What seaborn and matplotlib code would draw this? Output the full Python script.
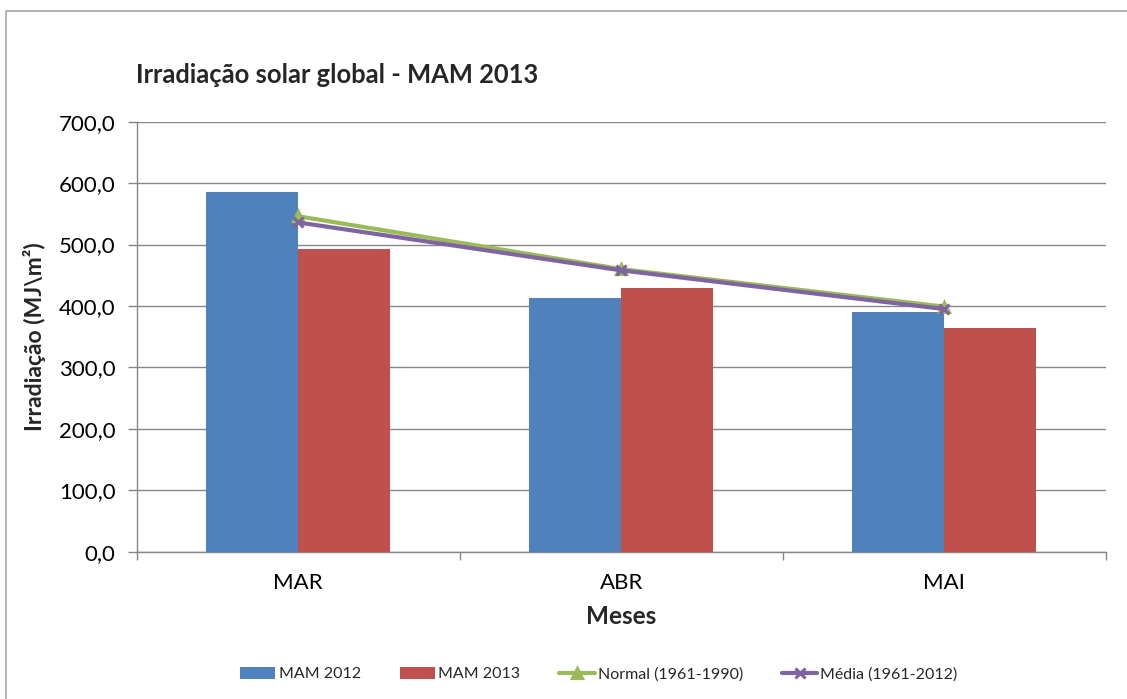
import matplotlib
matplotlib.use("Agg")
import matplotlib.pyplot as plt
import seaborn as sns
import pandas as pd
from matplotlib.ticker import FuncFormatter, FixedLocator
from matplotlib.patches import Rectangle

meses = ["MAR", "ABR", "MAI"]
mam_2012 = [585.0, 412.5, 389.5]
mam_2013 = [493.5, 429.5, 363.5]
normal_1961_1990 = [546.0, 460.0, 399.0]
media_1961_2012 = [536.0, 458.0, 395.0]

bar_series = ["MAM 2012", "MAM 2013"]
line_series = ["Normal (1961-1990)", "Média (1961-2012)"]

bars_df = pd.DataFrame({
    "Meses": meses * 2,
    "serie": [bar_series[0]] * 3 + [bar_series[1]] * 3,
    "valor": mam_2012 + mam_2013,
})
lines_df = pd.DataFrame({
    "Meses": meses * 2,
    "serie": [line_series[0]] * 3 + [line_series[1]] * 3,
    "valor": normal_1961_1990 + media_1961_2012,
})

sns.set_theme(style="white")
plt.rcParams["font.family"] = ["Lato", "DejaVu Sans"]

fig = plt.figure(figsize=(11.27, 6.99), dpi=100)
ax = fig.add_axes([136.7 / 1127, 1 - 551.7 / 699, (1105.7 - 136.7) / 1127, (551.7 - 121.7) / 699])

# outer chart frame
fig.patches.append(Rectangle((6 / 1127, -0.05), 1.2, 1 - 11 / 699 + 0.05,
                             transform=fig.transFigure, fill=False,
                             edgecolor="#a6a6a6", linewidth=1.2))

sns.barplot(data=bars_df, x="Meses", y="valor", hue="serie", order=meses,
            hue_order=bar_series, palette=["#4F81BD", "#C0504D"],
            width=0.57, saturation=1, ax=ax, errorbar=None, zorder=3,
            linewidth=0)

sns.pointplot(data=lines_df, x="Meses", y="valor", hue="serie", order=meses,
              hue_order=line_series, palette=["#9BBB59", "#8064A2"],
              markers=["^", "x"], linestyles=["-", "-"], dodge=False,
              ax=ax, errorbar=None, markersize=7, linewidth=3, zorder=4)

ax.set_xlim(-0.5, 2.5)
ax.set_ylim(0, 700)
ax.yaxis.set_major_locator(FixedLocator(range(0, 701, 100)))
ax.yaxis.set_major_formatter(FuncFormatter(lambda v, p: f"{v:.1f}".replace(".", ",")))
ax.grid(axis="y", color="#868686", linewidth=1, zorder=0)
ax.set_axisbelow(True)

for s in ["top", "right"]:
    ax.spines[s].set_visible(False)
for s in ["left", "bottom"]:
    ax.spines[s].set_color("#868686")
    ax.spines[s].set_linewidth(1)

ax.tick_params(axis="y", which="major", length=6.3, color="#868686", width=1,
               labelsize=16, labelcolor="black", pad=9, left=True)
ax.tick_params(axis="x", which="major", length=0, labelsize=16, labelcolor="black", pad=15)
ax.xaxis.set_minor_locator(FixedLocator([-0.5, 0.5, 1.5, 2.5]))
ax.tick_params(axis="x", which="minor", length=6, color="#868686", width=1, bottom=True)

ax.set_xlabel("Meses", fontsize=17.5, fontweight="bold")
ax.xaxis.set_label_coords(0.5, -0.124)
ax.set_ylabel("Irradiação (MJ\\m²)", fontsize=16.5, fontweight="bold")
ax.yaxis.set_label_coords(-0.0936, 0.5)

fig.text(136 / 1127, 1 - 75 / 699, "Irradiação solar global - MAM 2013",
         fontsize=18.4, fontweight="bold", ha="left", va="center")

handles, labels = ax.get_legend_handles_labels()
leg = ax.legend(handles, labels, ncol=4, loc="center",
                bbox_to_anchor=(599 / 1127, 1 - 674 / 699),
                bbox_transform=fig.transFigure, frameon=False,
                fontsize=11.5, handlelength=2.2, handleheight=0.8,
                handletextpad=0.2, columnspacing=2.45)

fig.savefig("out.png", dpi=100)
